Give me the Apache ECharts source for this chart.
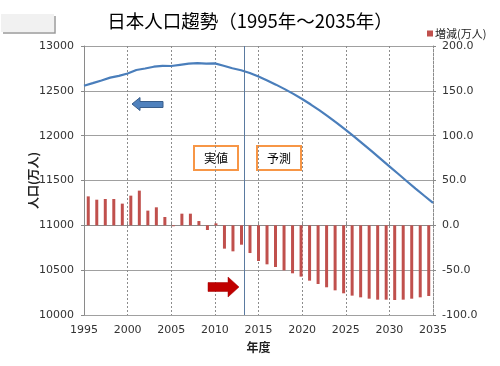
<!DOCTYPE html>
<html>
<head>
<meta charset="utf-8">
<script src="https://cdn.jsdelivr.net/npm/echarts@6/dist/echarts.min.js"></script>
<style>html,body{margin:0;padding:0;background:#fff;}#c{width:500px;height:366px;}</style>
</head>
<body>
<div id="c"></div>
<script>
// ---- data ----
const years = [1995,1996,1997,1998,1999,2000,2001,2002,2003,2004,2005,2006,2007,2008,2009,2010,2011,2012,2013,2014,2015,2016,2017,2018,2019,2020,2021,2022,2023,2024,2025,2026,2027,2028,2029,2030,2031,2032,2033,2034,2035];
const population = [12557,12586,12616,12647,12667,12693,12732,12749,12769,12779,12777,12790,12803,12808,12803,12806,12780,12752,12730,12699,12659,12616,12569,12519,12466,12409,12347,12282,12213,12140,12064,11986,11905,11824,11741,11658,11575,11492,11410,11330,11251];
const change = [32.3,28.6,29.4,29.4,24.2,33.1,38.7,16.4,20.1,9.3,-1.0,13.0,13.0,4.8,-5.2,2.2,-26.0,-29.0,-21.6,-30.9,-39.8,-43.5,-46.5,-50.2,-53.5,-57.2,-61.7,-65.4,-69.1,-72.5,-75.8,-78.4,-80.3,-81.8,-82.9,-82.9,-83.3,-82.9,-81.8,-80.3,-78.8];
const dividerYear = 2013.4;
const titleText = '日本人口趨勢（1995年～2035年）';
const seriesName = '増減(万人)';
const leftAxisName = '人口(万人)';
const xAxisName = '年度';
const labelActual = '実値';
const labelForecast = '予測';

const FONT = '"Noto Sans CJK JP","Noto Sans",sans-serif';
const NUMFONT = '"DejaVu Sans",sans-serif';
const chart = echarts.init(document.getElementById('c'), null, {renderer:'canvas'});
const lineData = years.map((y,i)=>[y, population[i]]);

chart.setOption({
  animation:false,
  backgroundColor:'#ffffff',
  textStyle:{fontFamily:FONT},
  title:{text:titleText,left:'center',top:7,textStyle:{fontSize:18.5,fontWeight:'normal',color:'#000',fontFamily:FONT}},
  legend:{data:[seriesName],left:422,top:23,itemWidth:6,itemHeight:6,icon:'rect',itemGap:4,
    textStyle:{fontSize:11,color:'#222',fontFamily:FONT,padding:[0,0,0,-3]}},
  grid:{left:84,right:67,top:46,bottom:51,containLabel:false},
  xAxis:[
    {type:'value',min:1995,max:2035,interval:5,position:'bottom',
     name:xAxisName,nameLocation:'middle',nameGap:26,
     nameTextStyle:{fontSize:12,fontWeight:'bold',color:'#222',fontFamily:FONT},
     axisLine:{show:true,lineStyle:{color:'#8a8a8a',width:1}},
     axisTick:{show:true,inside:true,length:4,lineStyle:{color:'#8a8a8a'}},
     axisLabel:{fontSize:11,color:'#333',margin:10,formatter:v=>String(v),fontFamily:NUMFONT},
     splitLine:{show:true,lineStyle:{color:'#8c8c8c',type:[2,2],width:1}}},
    {type:'category',data:years.map(String),show:false,boundaryGap:true}
  ],
  yAxis:[
    {type:'value',min:10000,max:13000,interval:500,position:'left',
     name:leftAxisName,nameLocation:'middle',nameGap:45,nameMoveOverlap:false,
     nameTextStyle:{fontSize:12,fontWeight:'bold',color:'#222',fontFamily:FONT},
     axisLine:{show:true,lineStyle:{color:'#8a8a8a'}},
     axisTick:{show:true,length:3,lineStyle:{color:'#8a8a8a'}},
     axisLabel:{fontSize:11,color:'#333',margin:10,formatter:v=>String(v),fontFamily:NUMFONT},
     splitLine:{show:true,lineStyle:{color:'#a0a0a0',width:1}}},
    {type:'value',min:-100,max:200,interval:50,position:'right',
     axisLine:{show:true,lineStyle:{color:'#8c8c8c',type:[2,2]}},
     axisTick:{show:true,length:3,lineStyle:{color:'#8a8a8a'}},
     axisLabel:{fontSize:11,color:'#333',margin:9,formatter:v=>v.toFixed(1),fontFamily:NUMFONT},
     splitLine:{show:false}}
  ],
  series:[
    {name:seriesName,type:'bar',xAxisIndex:1,yAxisIndex:1,data:change,barWidth:3,
     itemStyle:{color:'#c0504d'},z:2},
    {name:'人口',type:'line',xAxisIndex:0,yAxisIndex:0,data:lineData,showSymbol:false,symbol:'none',
     smooth:false,lineStyle:{color:'#4a7ebb',width:2.2},z:3,
     markLine:{silent:true,symbol:'none',label:{show:false},
       lineStyle:{color:'#5a7aa0',width:1,type:'solid'},data:[{xAxis:dividerYear}]}}
  ],
  graphic:[
    {type:'rect',left:1,top:14,shape:{width:53,height:18},style:{fill:'#f1f1f1'},z:10},
    {type:'polyline',shape:{points:[[3,33],[55,33],[55,16]]},style:{stroke:'#9a9a9a',lineWidth:1.5,fill:null},z:10},
    {type:'polygon',shape:{points:[[132,104],[140,97.5],[140,101.5],[163,101.5],[163,107.5],[140,107.5],[140,110.5]]},
     style:{fill:'#4f81bd',stroke:'#385d8a',lineWidth:1},z:10},
    {type:'polygon',shape:{points:[[208,282.5],[228,282.5],[228,277],[239,287],[228,297],[228,291.5],[208,291.5]]},
     style:{fill:'#c00000',stroke:'#a00000',lineWidth:0.5},z:10},
    {type:'group',left:193,top:145,z:10,children:[
      {type:'rect',shape:{x:0,y:0,width:44,height:24},style:{fill:'#fff',stroke:'#f79646',lineWidth:2}},
      {type:'text',style:{x:22,y:12,text:labelActual,align:'center',verticalAlign:'middle',fontSize:12,fill:'#000',fontFamily:FONT}}
    ]},
    {type:'group',left:256,top:145,z:10,children:[
      {type:'rect',shape:{x:0,y:0,width:44,height:24},style:{fill:'#fff',stroke:'#f79646',lineWidth:2}},
      {type:'text',style:{x:22,y:12,text:labelForecast,align:'center',verticalAlign:'middle',fontSize:12,fill:'#000',fontFamily:FONT}}
    ]}
  ]
});
</script>
</body>
</html>
